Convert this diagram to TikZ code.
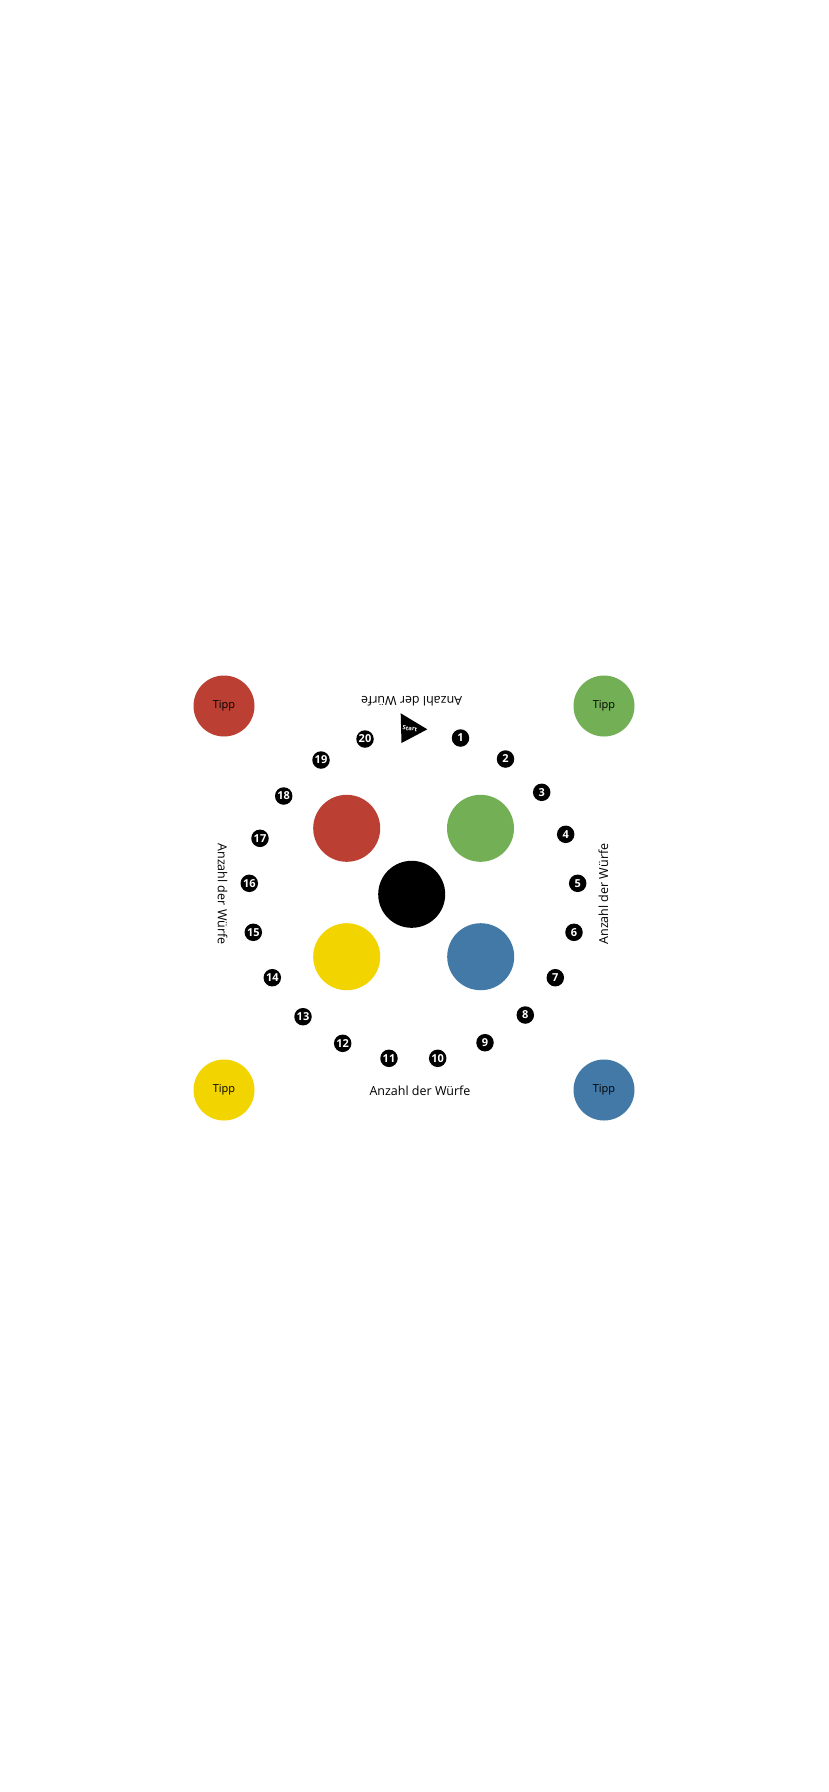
\documentclass[tikz,border=0pt]{standalone}
\usepackage{fontspec}
\setmainfont{Open Sans}
\definecolor{cred}{RGB}{187,64,51}
\definecolor{cgreen}{RGB}{115,175,85}
\definecolor{cyellow}{RGB}{242,212,0}
\definecolor{cblue}{RGB}{66,121,167}
\begin{document}
\begin{tikzpicture}[x=1pt,y=-1pt,
  numdot/.style={circle,fill=black,text=white,inner sep=0pt,minimum size=17.5pt,font=\bfseries\fontsize{11}{11}\selectfont},
  tipp/.style={circle,inner sep=0pt,minimum size=61pt,font=\fontsize{11}{11}\selectfont},
  bigdot/.style={circle,inner sep=0pt,minimum size=67pt},
  lbl/.style={inner sep=0pt,font=\fontsize{12.5}{12.5}\selectfont}]
\useasboundingbox (0,0) rectangle (828,1792);
\fill[white] (0,0) rectangle (828,1792);
% Tipp circles
\node[tipp,fill=cred]    (tr) at (224,706)  {Tipp};
\node[tipp,fill=cgreen]  (tg) at (604,706)  {Tipp};
\node[tipp,fill=cyellow] (ty) at (224,1090) {Tipp};
\node[tipp,fill=cblue]   (tb) at (604,1090) {Tipp};
% big circles
\node[bigdot,fill=cred]    (br) at (346.7,828.3) {};
\node[bigdot,fill=cgreen]  (bg) at (480.5,828.3) {};
\node[bigdot,fill=black]   (bk) at (411.7,894.3) {};
\node[bigdot,fill=cyellow] (by) at (346.7,956.7) {};
\node[bigdot,fill=cblue]   (bb) at (480.7,956.7) {};
% numbers
\node[numdot] (n1)  at (460.5,738)   {1};
\node[numdot] (n2)  at (505.5,759)   {2};
\node[numdot] (n3)  at (541.7,792.3) {3};
\node[numdot] (n4)  at (565.7,834.3) {4};
\node[numdot] (n5)  at (577.7,883.3) {5};
\node[numdot] (n6)  at (574,932.3)   {6};
\node[numdot] (n7)  at (555.3,977.7) {7};
\node[numdot] (n8)  at (525.3,1015)  {8};
\node[numdot] (n9)  at (485,1042.7)  {9};
\node[numdot] (n10) at (437.7,1058.3) {10};
\node[numdot] (n11) at (389,1058.3)  {11};
\node[numdot] (n12) at (342.7,1043.3) {12};
\node[numdot] (n13) at (303,1016.7)  {13};
\node[numdot] (n14) at (272.3,977.7) {14};
\node[numdot] (n15) at (253.3,932.3) {15};
\node[numdot] (n16) at (249.3,883.3) {16};
\node[numdot] (n17) at (260,838.3)   {17};
\node[numdot] (n18) at (283.7,796)   {18};
\node[numdot] (n19) at (321,760)     {19};
\node[numdot] (n20) at (365,739)     {20};
% start triangle
\coordinate (s1) at (400.7,713.3);
\coordinate (s2) at (401.5,743);
\coordinate (s3) at (427.3,729.3);
\fill[black] (s1) -- (s3) -- (s2) -- cycle;
\node[text=white,inner sep=0pt,rotate=-8,font=\bfseries\fontsize{6}{6}\selectfont] (st) at (410,728.5) {Start};
% labels
\node[lbl,rotate=180] (lt) at (411.7,701.5) {Anzahl der Würfe};
\node[lbl] (lb) at (420,1090.5) {Anzahl der Würfe};
\node[lbl,rotate=-90] (ll) at (222.5,894) {Anzahl der Würfe};
\node[lbl,rotate=90] (lr) at (603.5,894) {Anzahl der Würfe};
\end{tikzpicture}
\end{document}
